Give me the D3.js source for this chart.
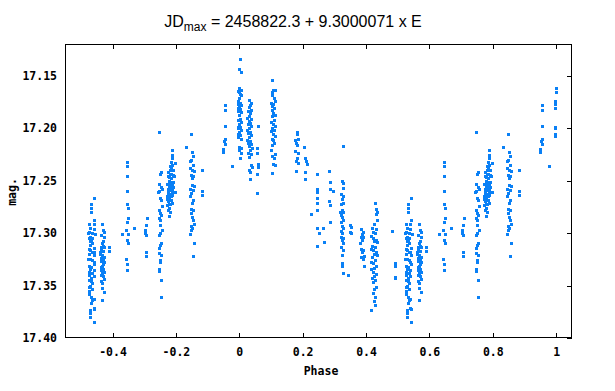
<!DOCTYPE html>
<html><head><meta charset="utf-8">
<script src="https://cdn.jsdelivr.net/npm/d3@7"></script>
<style>body{margin:0;background:#fff}svg{display:block}</style>
</head><body>
<script>
const titleMain = "JD";
const titleSub = "max";
const titleRest = " = 2458822.3 + 9.3000071 x E";
const xLabel = "Phase";
const yLabel = "mag.";
const xTicks = [-0.4, -0.2, 0, 0.2, 0.4, 0.6, 0.8, 1];
const xTickLabels = ["-0.4", "-0.2", "0", "0.2", "0.4", "0.6", "0.8", "1"];
const yTicks = [17.15, 17.20, 17.25, 17.30, 17.35, 17.40];
const yTickLabels = ["17.15", "17.20", "17.25", "17.30", "17.35", "17.40"];

// observations as [phase, mag]; phases >= 0.5 are also plotted at phase - 1
const grp00 = [[0.003,17.134],[0.000,17.144],[0.006,17.147],[0.000,17.162],[0.006,17.164],[-0.003,17.165],[0.003,17.168],[0.006,17.169],[0.000,17.171],[-0.003,17.174],[0.003,17.176],[0.006,17.178],[0.000,17.180],[0.003,17.182],[-0.003,17.184],[0.006,17.185],[0.000,17.188],[0.003,17.191],[-0.003,17.192],[0.006,17.194],[0.000,17.196],[0.003,17.199],[-0.003,17.200],[0.006,17.202],[0.000,17.204],[0.003,17.207],[-0.003,17.209],[0.006,17.210],[0.000,17.218],[0.006,17.219],[0.000,17.221],[0.006,17.224],[0.003,17.229]];
const grp03 = [[0.032,17.173],[0.038,17.176],[0.035,17.178],[0.032,17.180],[0.038,17.183],[0.028,17.184],[0.035,17.186],[0.032,17.189],[0.025,17.190],[0.038,17.191],[0.032,17.193],[0.035,17.195],[0.028,17.196],[0.038,17.198],[0.032,17.200],[0.025,17.202],[0.035,17.204],[0.028,17.205],[0.038,17.207],[0.032,17.209],[0.025,17.211],[0.035,17.212],[0.028,17.214],[0.038,17.215],[0.032,17.217],[0.041,17.219],[0.035,17.221],[0.028,17.224],[0.038,17.225],[0.032,17.228],[0.038,17.235],[0.041,17.237],[0.032,17.240],[0.035,17.242],[0.035,17.249],[0.060,17.198],[0.057,17.219],[0.057,17.224],[0.060,17.234],[0.060,17.237],[0.057,17.244],[0.057,17.262]];
const grp10 = [[0.104,17.154],[0.107,17.164],[0.114,17.164],[0.102,17.166],[0.104,17.169],[0.110,17.171],[0.114,17.174],[0.099,17.176],[0.107,17.177],[0.104,17.179],[0.110,17.181],[0.102,17.183],[0.107,17.186],[0.114,17.188],[0.104,17.189],[0.110,17.192],[0.099,17.194],[0.107,17.196],[0.114,17.198],[0.104,17.200],[0.110,17.202],[0.099,17.203],[0.107,17.206],[0.114,17.208],[0.102,17.210],[0.107,17.211],[0.110,17.214],[0.104,17.216],[0.099,17.221],[0.114,17.225],[0.102,17.227],[0.110,17.229],[0.107,17.234],[0.114,17.235],[0.104,17.243]];
const grp18 = [[0.183,17.204],[0.183,17.206],[0.186,17.210],[0.177,17.211],[0.180,17.214],[0.183,17.216],[0.177,17.222],[0.186,17.224],[0.183,17.229],[0.180,17.231],[0.186,17.233],[0.180,17.241],[0.205,17.218],[0.214,17.234]];
const grp23 = [[0.208,17.229],[0.211,17.231],[0.208,17.242],[0.208,17.249],[0.246,17.244],[0.246,17.258],[0.246,17.261],[0.246,17.267],[0.246,17.271],[0.246,17.278],[0.246,17.295],[0.246,17.312],[0.227,17.282],[0.265,17.295],[0.252,17.300],[0.268,17.309]];
const grp29 = [[0.284,17.241],[0.287,17.251],[0.287,17.258],[0.296,17.260],[0.284,17.270],[0.287,17.273],[0.287,17.290],[0.328,17.217]];
const grp32 = [[0.325,17.250],[0.328,17.252],[0.328,17.257],[0.322,17.263],[0.328,17.265],[0.325,17.268],[0.328,17.271],[0.322,17.272],[0.325,17.278],[0.319,17.280],[0.328,17.280],[0.322,17.283],[0.325,17.285],[0.328,17.288],[0.322,17.290],[0.325,17.293],[0.328,17.295],[0.322,17.298],[0.325,17.300],[0.322,17.304],[0.328,17.305],[0.325,17.307],[0.328,17.310],[0.322,17.313],[0.328,17.316],[0.325,17.321],[0.325,17.329],[0.325,17.331],[0.328,17.338],[0.344,17.340],[0.350,17.292],[0.353,17.294],[0.350,17.299],[0.353,17.300]];
const grp39 = [[0.385,17.296],[0.391,17.299],[0.388,17.301],[0.385,17.304],[0.391,17.304],[0.388,17.307],[0.382,17.310],[0.385,17.315],[0.391,17.316],[0.388,17.318],[0.394,17.322],[0.385,17.323],[0.391,17.325],[0.394,17.331]];
const grp43 = [[0.429,17.271],[0.432,17.277],[0.435,17.280],[0.432,17.282],[0.435,17.288],[0.426,17.291],[0.432,17.296],[0.420,17.295],[0.423,17.299],[0.429,17.300],[0.417,17.303],[0.423,17.305],[0.432,17.307],[0.426,17.308],[0.435,17.309],[0.420,17.312],[0.429,17.313],[0.417,17.315],[0.423,17.316],[0.432,17.318],[0.426,17.320],[0.435,17.321],[0.420,17.323],[0.429,17.326],[0.417,17.328],[0.423,17.329],[0.432,17.331],[0.426,17.333],[0.417,17.334],[0.423,17.337],[0.432,17.339],[0.426,17.341],[0.420,17.343],[0.429,17.345],[0.423,17.347],[0.432,17.351],[0.426,17.353],[0.423,17.357],[0.429,17.361],[0.426,17.365],[0.429,17.369],[0.417,17.373],[0.483,17.298],[0.492,17.329],[0.492,17.331],[0.492,17.342],[0.492,17.343]];
const grp53 = [[0.543,17.267],[0.533,17.272],[0.533,17.276],[0.533,17.280],[0.543,17.288],[0.527,17.291],[0.540,17.291],[0.530,17.295],[0.540,17.296],[0.527,17.299],[0.536,17.300],[0.544,17.301],[0.530,17.304],[0.527,17.305],[0.536,17.305],[0.530,17.308],[0.530,17.311],[0.542,17.314],[0.527,17.315],[0.530,17.316],[0.536,17.318],[0.543,17.321],[0.524,17.325],[0.530,17.325],[0.536,17.326],[0.540,17.328],[0.543,17.330],[0.527,17.331],[0.533,17.332],[0.530,17.334],[0.527,17.337],[0.536,17.338],[0.527,17.340],[0.540,17.341],[0.533,17.343],[0.527,17.345],[0.536,17.348],[0.530,17.350],[0.527,17.351],[0.536,17.353],[0.527,17.355],[0.533,17.361],[0.540,17.363],[0.536,17.364],[0.533,17.367],[0.540,17.371],[0.543,17.372],[0.530,17.373],[0.530,17.376],[0.530,17.380],[0.543,17.385],[0.533,17.308],[0.527,17.320],[0.540,17.335],[0.533,17.346],[0.527,17.358],[0.536,17.310],[0.524,17.300],[0.540,17.318]];
const grp57 = [[0.568,17.291],[0.571,17.297],[0.574,17.299],[0.565,17.302],[0.574,17.304],[0.571,17.308],[0.565,17.313],[0.574,17.313],[0.565,17.316],[0.571,17.317],[0.562,17.320],[0.568,17.321],[0.574,17.323],[0.565,17.324],[0.571,17.326],[0.565,17.327],[0.574,17.328],[0.568,17.331],[0.565,17.332],[0.571,17.334],[0.565,17.335],[0.574,17.337],[0.568,17.338],[0.571,17.341],[0.574,17.344],[0.565,17.346],[0.568,17.348],[0.568,17.352],[0.574,17.356],[0.568,17.364],[0.590,17.313],[0.590,17.317],[0.568,17.310],[0.562,17.318],[0.571,17.330],[0.565,17.340],[0.571,17.312],[0.568,17.325]];
const grp65 = [[0.647,17.232],[0.647,17.236],[0.647,17.246],[0.647,17.260],[0.647,17.272],[0.650,17.276],[0.650,17.286],[0.647,17.290],[0.644,17.297],[0.631,17.301],[0.650,17.301],[0.647,17.307],[0.650,17.310],[0.644,17.325],[0.647,17.330],[0.647,17.335],[0.669,17.295]];
const grp70 = [[0.710,17.286],[0.707,17.292],[0.704,17.297],[0.704,17.300],[0.707,17.302],[0.707,17.318],[0.707,17.322]];
const grp75 = [[0.748,17.204],[0.751,17.244],[0.754,17.242],[0.748,17.253],[0.754,17.256],[0.757,17.258],[0.748,17.260],[0.751,17.267],[0.754,17.269],[0.757,17.274],[0.748,17.278],[0.751,17.281],[0.754,17.283],[0.748,17.286],[0.751,17.288],[0.751,17.292],[0.757,17.297],[0.751,17.300],[0.748,17.302],[0.754,17.310],[0.751,17.311],[0.748,17.314],[0.748,17.319],[0.754,17.321],[0.751,17.326],[0.751,17.328],[0.748,17.334],[0.748,17.336],[0.754,17.345],[0.754,17.361],[0.745,17.261]];
const grp78 = [[0.789,17.221],[0.789,17.226],[0.789,17.229],[0.786,17.232],[0.798,17.233],[0.789,17.235],[0.786,17.238],[0.782,17.240],[0.789,17.240],[0.776,17.242],[0.782,17.244],[0.792,17.245],[0.795,17.246],[0.776,17.246],[0.786,17.248],[0.779,17.250],[0.782,17.251],[0.792,17.251],[0.773,17.253],[0.789,17.253],[0.779,17.254],[0.792,17.256],[0.782,17.256],[0.776,17.258],[0.786,17.259],[0.789,17.259],[0.798,17.261],[0.776,17.261],[0.782,17.263],[0.789,17.264],[0.773,17.265],[0.786,17.265],[0.779,17.267],[0.786,17.269],[0.776,17.269],[0.776,17.270],[0.782,17.272],[0.789,17.271],[0.773,17.273],[0.779,17.276],[0.776,17.278],[0.782,17.280],[0.779,17.284],[0.782,17.236],[0.786,17.244],[0.779,17.247],[0.792,17.240],[0.782,17.258],[0.789,17.262],[0.776,17.264],[0.779,17.256],[0.786,17.253],[0.773,17.268],[0.779,17.272]];
const grp85 = [[0.849,17.206],[0.833,17.218],[0.852,17.223],[0.855,17.227],[0.849,17.230],[0.846,17.231],[0.855,17.235],[0.846,17.238],[0.852,17.240],[0.858,17.241],[0.849,17.245],[0.855,17.246],[0.852,17.248],[0.852,17.254],[0.858,17.255],[0.846,17.258],[0.855,17.259],[0.849,17.262],[0.846,17.265],[0.855,17.269],[0.852,17.271],[0.849,17.277],[0.855,17.278],[0.849,17.281],[0.852,17.285],[0.855,17.288],[0.858,17.291],[0.849,17.293],[0.852,17.295],[0.849,17.297],[0.846,17.301],[0.858,17.310],[0.855,17.322],[0.883,17.240],[0.883,17.260],[0.883,17.264]];
const grp97 = [[0.956,17.198],[0.956,17.210],[0.953,17.212],[0.956,17.215],[0.950,17.220],[0.950,17.223],[0.978,17.236],[0.955,17.178],[0.955,17.183],[0.997,17.199],[0.997,17.200],[0.997,17.206],[0.997,17.208],[0.998,17.162],[0.998,17.166],[0.997,17.174],[0.997,17.177],[0.996,17.181]];

const groups = [grp00, grp03, grp10, grp18, grp23, grp29, grp32, grp39, grp43, grp53, grp57, grp65, grp70, grp75, grp78, grp85, grp97];

const W = 615, H = 391;
const L = 65, R = 572, T = 44, B = 338;
const pointColor = "#0a80f5";
const monoFont = "'DejaVu Sans Mono', 'Liberation Mono', monospace";

const svg = d3.select("body").append("svg").attr("width", W).attr("height", H)
  .style("font-family", monoFont);

const x = d3.scaleLinear().domain([-0.55, 1.05]).range([L, R]);
const y = d3.scaleLinear().domain([17.12, 17.40]).range([T, B]);

const pts = [];
groups.forEach(g => g.forEach(([p, m]) => {
  pts.push([p, m]);
  if (p >= 0.5) pts.push([p - 1, m]);
}));

svg.append("g").selectAll("rect").data(pts).join("rect")
  .attr("x", d => Math.round(x(d[0])) - 1)
  .attr("y", d => Math.round(y(d[1])) - 1)
  .attr("width", 3).attr("height", 3)
  .attr("fill", pointColor)
  .attr("shape-rendering", "crispEdges");

function styleAxis(g, showText, showLines) {
  g.select(".domain").remove();
  g.selectAll(".tick line").attr("stroke", "#000").attr("shape-rendering", "crispEdges");
  if (!showLines) g.selectAll(".tick line").remove();
  g.selectAll(".tick text").attr("fill", "#000").attr("font-size", 11.5).attr("font-weight", "bold")
    .attr("font-family", monoFont);
  if (!showText) g.selectAll(".tick text").remove();
}

svg.append("g").attr("transform", `translate(0,${B})`)
  .call(d3.axisBottom(x).tickValues(xTicks).tickFormat((d, i) => xTickLabels[i]).tickSizeInner(-5).tickSizeOuter(0).tickPadding(10))
  .call(g => styleAxis(g, true, true));
svg.append("g").attr("transform", `translate(0,${T})`)
  .call(d3.axisTop(x).tickValues(xTicks).tickSizeInner(-5).tickSizeOuter(0))
  .call(g => styleAxis(g, false, true));
svg.append("g").attr("transform", `translate(${L},0)`)
  .call(d3.axisLeft(y).tickValues(yTicks).tickFormat((d, i) => yTickLabels[i]).tickSizeInner(0).tickSizeOuter(0).tickPadding(8))
  .call(g => styleAxis(g, true, false));
svg.append("g").attr("transform", `translate(${R},0)`)
  .call(d3.axisRight(y).tickValues(yTicks).tickSizeInner(-5).tickSizeOuter(0))
  .call(g => styleAxis(g, false, true));

svg.append("rect").attr("x", L + 0.5).attr("y", T + 0.5).attr("width", R - L - 1).attr("height", B - T - 1)
  .attr("fill", "none").attr("stroke", "#000").attr("stroke-width", 1);

const title = svg.append("text").attr("x", 293).attr("y", 27).attr("text-anchor", "middle")
  .attr("font-family", "'Liberation Sans', Arial, sans-serif").attr("font-size", 16).attr("fill", "#000");
title.append("tspan").text(titleMain);
title.append("tspan").attr("font-size", 12).attr("dy", 4).text(titleSub);
title.append("tspan").attr("dy", -4).text(titleRest);

svg.append("text").attr("x", 321).attr("y", 375).attr("text-anchor", "middle")
  .attr("font-size", 11.5).attr("font-weight", "bold").attr("fill", "#000").text(xLabel);

svg.append("text").attr("transform", "translate(16,192) rotate(-90)").attr("text-anchor", "middle")
  .attr("font-size", 11.5).attr("font-weight", "bold").attr("fill", "#000").text(yLabel);
</script>
</body></html>
